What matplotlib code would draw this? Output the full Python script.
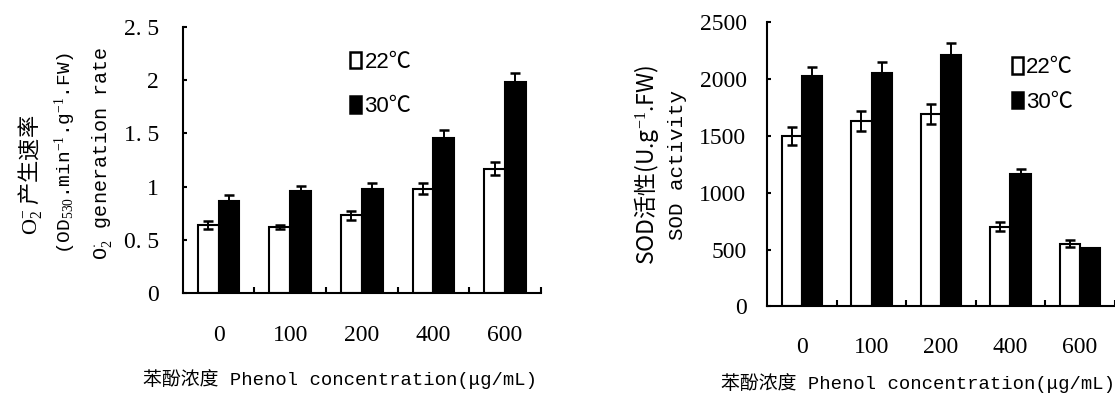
import matplotlib
matplotlib.use('Agg')
import numpy as np
import matplotlib.pyplot as plt
from matplotlib.patches import Patch
from matplotlib.font_manager import FontProperties

plt.rcParams['font.family'] = ['Liberation Serif', 'Noto Sans CJK SC', 'DejaVu Sans']
plt.rcParams['mathtext.fontset'] = 'custom'
plt.rcParams['mathtext.rm'] = 'Liberation Serif'
plt.rcParams['mathtext.default'] = 'rm'

concentrations = ['0', '100', '200', '400', '600']
series_labels = ['22℃', '30℃']

# O2- generation rate
o2_22 = [0.64, 0.62, 0.73, 0.98, 1.17]
o2_22_err = [0.04, 0.02, 0.04, 0.05, 0.06]
o2_30 = [0.87, 0.96, 0.98, 1.46, 1.98]
o2_30_err = [0.05, 0.05, 0.05, 0.07, 0.09]
o2_ticks = [0, 0.5, 1, 1.5, 2, 2.5]
o2_ticklabels = ['0', '0. 5', '1', '1. 5', '2', '2. 5']

# SOD activity
sod_22 = [1500, 1630, 1690, 700, 550]
sod_22_err = [80, 90, 90, 40, 30]
sod_30 = [2020, 2050, 2210, 1160, 510]
sod_30_err = [80, 100, 100, 50, 0]
sod_ticks = [0, 500, 1000, 1500, 2000, 2500]
sod_ticklabels = ['0', '500', '1000', '1500', '2000', '2500']

xlabel = '苯酚浓度 Phenol concentration(μg/mL)'

mono_cjk = ['Liberation Mono', 'Noto Sans CJK SC']
leg_font = FontProperties(family=['Liberation Sans', 'Noto Sans CJK SC'], size=16)


def draw_panel(ax, v22, e22, v30, e30, ticks, ticklabels, leg_anchor, leg_spacing, pad_x, pad_y):
    x = np.arange(len(concentrations))
    w = 0.29
    ax.bar(x - w / 2, v22, w, color='white', edgecolor='black', linewidth=1.5)
    ax.bar(x + w / 2, v30, w, color='black', edgecolor='black', linewidth=1.5)
    ax.errorbar(x - w / 2, v22, yerr=e22, fmt='none', ecolor='black',
                elinewidth=1.4, capsize=3.5, capthick=1.8)
    ax.errorbar(x + w / 2, v30, yerr=e30, fmt='none', ecolor='black',
                elinewidth=1.4, capsize=3.5, capthick=1.8)

    ax.set_xlim(-0.5, len(concentrations) - 0.5)
    ax.set_ylim(ticks[0], ticks[-1])
    ax.set_yticks(ticks)
    ax.set_yticklabels(ticklabels)
    ax.set_xticks(x)
    ax.set_xticklabels(concentrations)
    ax.set_xticks(x + 0.5, minor=True)

    for s in ['top', 'right']:
        ax.spines[s].set_visible(False)
    for s in ['left', 'bottom']:
        ax.spines[s].set_linewidth(1.5)

    ax.tick_params(axis='y', direction='in', length=3, width=1.5, labelsize=17, pad=pad_y)
    ax.tick_params(axis='x', which='major', length=0, labelsize=17, pad=pad_x)
    ax.tick_params(axis='x', which='minor', direction='in', length=4, width=1.5)

    handles = [Patch(facecolor='white', edgecolor='black', linewidth=1.8),
               Patch(facecolor='black', edgecolor='black', linewidth=1.8)]
    ax.legend(handles, series_labels, loc='upper left', bbox_to_anchor=leg_anchor,
              frameon=False, prop=leg_font, handlelength=0.5, handleheight=0.75,
              handletextpad=0.15, labelspacing=leg_spacing, borderpad=0, borderaxespad=0)


fig = plt.figure(figsize=(11.15, 3.98), dpi=100)

ax1 = fig.add_axes([0.1639, 0.2631, 0.3211, 0.6698])
draw_panel(ax1, o2_22, o2_22_err, o2_30, o2_30_err, o2_ticks, o2_ticklabels,
           (0.467, 0.905), 1.05, 23, 17)
ax1.set_xlabel(xlabel, family=mono_cjk, fontsize=13.6)
ax1.xaxis.set_label_coords(0.44, -0.285)

fig.text(0.027, 0.56, r'$\mathrm{O}_2^{-}$ 产生速率', rotation=90, ha='center', va='center',
         family='Noto Sans CJK SC', fontsize=16)
fig.text(0.0583, 0.616, r'(OD$_{530}$.min$^{-1}$.g$^{-1}$.FW)', rotation=90, ha='center',
         va='center', family='Liberation Mono', fontsize=14)
fig.text(0.0915, 0.616, r'O$_2^{\cdot}$ generation rate', rotation=90, ha='center',
         va='center', family='Liberation Mono', fontsize=14.5)

ax2 = fig.add_axes([0.6882, 0.2299, 0.3115, 0.7156])
draw_panel(ax2, sod_22, sod_22_err, sod_30, sod_30_err, sod_ticks, sod_ticklabels,
           (0.703, 0.875), 0.62, 22, 15)
ax2.set_xlabel(xlabel, family=mono_cjk, fontsize=13.6)
ax2.xaxis.set_label_coords(0.435, -0.235)

fig.text(0.580, 0.585, r'SOD活性(U.g$^{-1}$.FW)', rotation=90, ha='center', va='center',
         family='Noto Sans CJK SC', fontsize=16.5)
fig.text(0.608, 0.585, 'SOD activity', rotation=90, ha='center', va='center',
         family='Liberation Mono', fontsize=15)

fig.savefig('out.png', dpi=100)
